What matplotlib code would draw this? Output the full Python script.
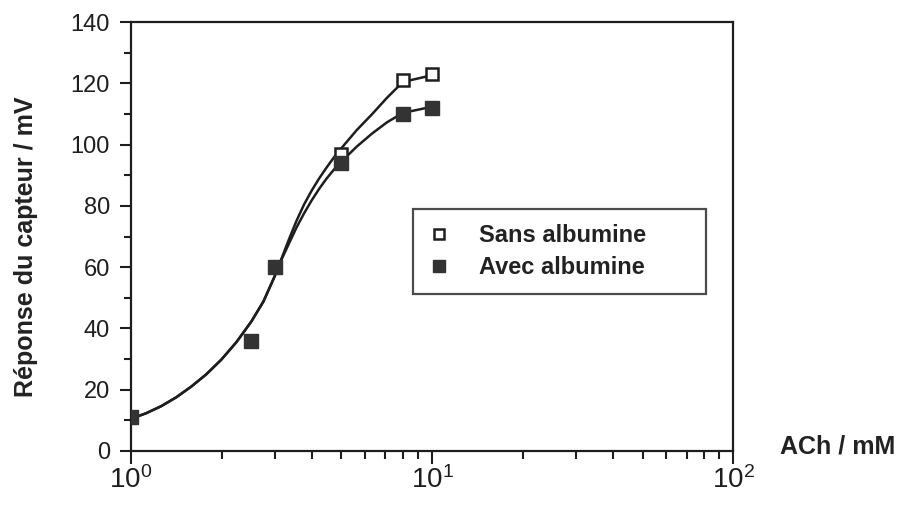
# Reponse du capteur vs ACh (log scale)
import matplotlib
matplotlib.use("Agg")
import matplotlib.pyplot as plt
from matplotlib.lines import Line2D
from matplotlib.ticker import FixedLocator, NullFormatter

plt.rcParams['font.family'] = ['Liberation Sans', 'DejaVu Sans']
plt.rcParams['mathtext.fontset'] = 'custom'
plt.rcParams['mathtext.rm'] = 'Liberation Sans'

# measured points
ach = [1, 2.5, 3, 5, 8, 10]
sans_alb = [11, 36, 60, 97, 121, 123]
avec_alb = [11, 36, 60, 94, 110, 112]

# fitted curves as drawn in the figure
curve_x_sans = [1.0, 1.122, 1.259, 1.413, 1.585, 1.778, 1.995, 2.239, 2.512, 2.754, 3.0,
                3.162, 3.350, 3.548, 3.758, 3.981, 4.217, 4.467, 4.732, 5.012, 5.623,
                6.310, 7.079, 8.0, 10.0]
curve_y_sans = [10.5, 12.3, 14.6, 17.5, 21.0, 25.0, 29.8, 35.5, 42.3, 48.8, 57.0,
                62.8, 69.2, 75.2, 80.5, 85.0, 89.0, 92.6, 96.0, 99.0, 104.8,
                109.9, 115.3, 120.5, 122.7]
curve_x_avec = [1.0, 1.122, 1.259, 1.413, 1.585, 1.778, 1.995, 2.239, 2.512, 2.754, 3.0,
                3.162, 3.350, 3.548, 3.758, 3.981, 4.217, 4.467, 4.732, 5.012, 5.623,
                6.310, 7.079, 8.0, 10.0]
curve_y_avec = [10.5, 12.3, 14.6, 17.5, 21.0, 25.0, 29.8, 35.5, 42.3, 48.8, 57.0,
                62.5, 67.8, 73.0, 77.6, 81.8, 85.6, 89.0, 92.0, 94.6, 99.4,
                103.6, 107.3, 110.4, 112.4]

y_ticks = [0, 20, 40, 60, 80, 100, 120, 140]
x_ticks = [1, 10, 100]
x_tick_labels = [r'$\mathregular{10^{0}}$', r'$\mathregular{10^{1}}$', r'$\mathregular{10^{2}}$']

ink = '#1e1e1e'

fig = plt.figure(figsize=(9.03, 5.05), dpi=100)
ax = fig.add_axes([0.145, 0.107, 0.667, 0.849])

ax.plot(curve_x_sans, curve_y_sans, color=ink, lw=1.8, zorder=2, solid_joinstyle='round')
ax.plot(curve_x_avec, curve_y_avec, color=ink, lw=1.8, zorder=2, solid_joinstyle='round')
ax.plot(ach, sans_alb, 's', ms=8.5, mfc='white', mec=ink, mew=1.8, zorder=3)
ax.plot(ach, avec_alb, 's', ms=10, mfc='#333333', mec='#333333', zorder=4)

ax.set_xscale('log')
ax.set_xlim(1, 100)
ax.set_ylim(0, 140)

ax.set_yticks(y_ticks)
ax.yaxis.set_minor_locator(FixedLocator([10, 30, 50, 70, 90, 110, 130]))
ax.set_xticks(x_ticks)
ax.set_xticklabels(x_tick_labels)
ax.xaxis.set_minor_locator(FixedLocator([2, 3, 4, 5, 6, 7, 8, 9, 20, 30, 40, 50, 60, 70, 80, 90]))
ax.xaxis.set_minor_formatter(NullFormatter())

ax.tick_params(axis='y', which='major', direction='out', length=8, width=1.5, labelsize=17, pad=7, colors=ink)
ax.tick_params(axis='y', which='minor', direction='out', length=5, width=1.5, colors=ink)
ax.tick_params(axis='x', which='major', direction='out', length=9, width=1.5, labelsize=20, pad=2, colors=ink)
ax.tick_params(axis='x', which='minor', direction='out', length=6, width=1.5, colors=ink)

for s in ax.spines.values():
    s.set_linewidth(1.6)
    s.set_color(ink)

ax.set_ylabel('Réponse du capteur / mV', fontsize=18, fontweight='bold', color='#222222')
ax.yaxis.set_label_coords(-0.154, 0.476)
fig.text(0.864, 0.115, 'ACh / mM', fontsize=18, fontweight='bold', color='#222222', ha='left', va='center')

handles = [
    Line2D([], [], ls='none', marker='s', ms=7, mfc='white', mec=ink, mew=1.8),
    Line2D([], [], ls='none', marker='s', ms=8, mfc='#333333', mec='#333333'),
]
leg = ax.legend(handles, ['Sans albumine', 'Avec albumine'], loc='upper left',
                bbox_to_anchor=(0.468, 0.366, 0.487, 0.198), mode='expand',
                borderaxespad=0, fancybox=False, frameon=True,
                prop={'weight': 'bold', 'size': 17}, handlelength=1.0,
                handletextpad=1.2, labelspacing=0.4, borderpad=0.62)
leg.get_frame().set_edgecolor(ink)
leg.get_frame().set_linewidth(1.6)
for t in leg.get_texts():
    t.set_color('#222222')

fig.savefig('out.png', dpi=100)
